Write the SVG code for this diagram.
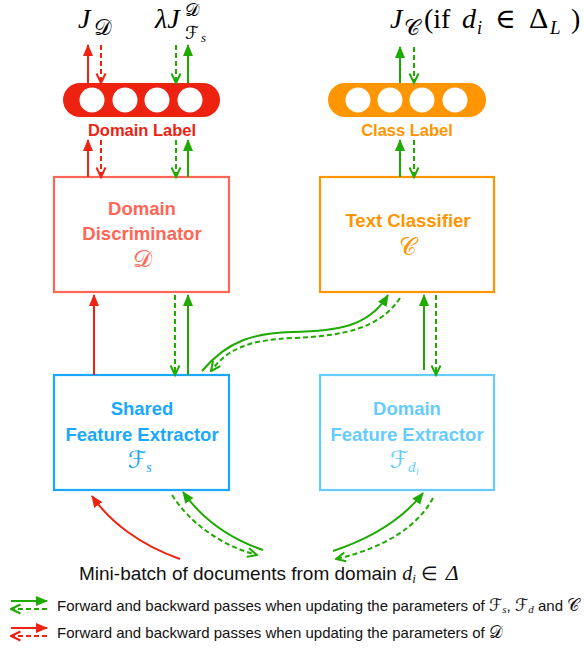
<svg xmlns="http://www.w3.org/2000/svg" width="584" height="648" viewBox="0 0 584 648">
<style>
.lbl{font-family:"Liberation Sans",Arial,sans-serif;font-weight:bold;text-anchor:middle}
.box{fill:#fff;stroke-width:2.2}
.math{font-family:"Liberation Serif","DejaVu Serif",serif;font-style:italic}
.up{font-family:"Liberation Serif","DejaVu Serif",serif}
.cal{font-family:"DejaVu Sans","Noto Sans",sans-serif;font-style:normal}
.g{stroke:#1FAA00;stroke-width:2;fill:none}
.r{stroke:#EE2211;stroke-width:2;fill:none}
.gs{marker-end:url(#gSolid)}
.gd{stroke-dasharray:5 3;marker-end:url(#gOpen)}
.rs{marker-end:url(#rSolid)}
.rd{stroke-dasharray:5 3;marker-end:url(#rOpen)}
.leg{font-family:"Liberation Sans",Arial,sans-serif;font-size:15px;fill:#111}
</style>
<defs>
<marker id="gSolid" markerUnits="userSpaceOnUse" markerWidth="12" markerHeight="12" viewBox="0 0 12 10" refX="11" refY="5" orient="auto"><path d="M0,0 L12,5 L0,10 z" fill="#1FAA00"/></marker>
<marker id="rSolid" markerUnits="userSpaceOnUse" markerWidth="12" markerHeight="12" viewBox="0 0 12 10" refX="11" refY="5" orient="auto"><path d="M0,0 L12,5 L0,10 z" fill="#EE2211"/></marker>
<marker id="gOpen" markerUnits="userSpaceOnUse" markerWidth="12" markerHeight="12" viewBox="0 0 12 10" refX="10.5" refY="5" orient="auto"><path d="M1,0.5 L10.5,5 L1,9.5" fill="none" stroke="#1FAA00" stroke-width="2"/></marker>
<marker id="rOpen" markerUnits="userSpaceOnUse" markerWidth="12" markerHeight="12" viewBox="0 0 12 10" refX="10.5" refY="5" orient="auto"><path d="M1,0.5 L10.5,5 L1,9.5" fill="none" stroke="#EE2211" stroke-width="2"/></marker>
</defs>

<!-- top loss labels -->
<g id="loss-domain">
<text class="math" x="78" y="28" font-size="28">J</text>
<text class="cal" x="94" y="35" font-size="22">𝒟</text>
</g>
<g id="loss-shared">
<text class="math" x="155" y="28" font-size="28">λJ</text>
<text class="cal" x="185" y="16" font-size="18">𝒟</text>
<text class="cal" x="185" y="39" font-size="18">ℱ</text>
<text class="math" x="201" y="42" font-size="13">s</text>
</g>
<g id="loss-class">
<text class="math" x="390" y="28" font-size="28">J</text>
<text class="cal" x="404" y="35" font-size="22">𝒞</text>
<text class="up" x="424" y="28" font-size="28">(if</text>
<text class="math" x="462" y="28" font-size="28">d</text>
<text class="math" x="477" y="34" font-size="18">i</text>
<text class="up" x="495" y="28" font-size="28">∈</text>
<text class="up" x="529" y="28" font-size="30">Δ</text>
<text class="math" x="550" y="34" font-size="19">L</text>
<text class="up" x="571" y="28" font-size="28">)</text>
</g>

<!-- label layers -->
<g id="domain-label">
<rect x="63" y="83" width="157" height="34" rx="17" fill="#EE2211"/>
<circle cx="92" cy="100" r="12.5" fill="#fff"/>
<circle cx="125" cy="100" r="12.5" fill="#fff"/>
<circle cx="157" cy="100" r="12.5" fill="#fff"/>
<circle cx="190" cy="100" r="12.5" fill="#fff"/>
<text class="lbl" x="142" y="136" font-size="16.5" fill="#EE2211">Domain Label</text>
</g>
<g id="class-label">
<rect x="328" y="83" width="158" height="34" rx="17" fill="#FF9500"/>
<circle cx="358" cy="100" r="12.5" fill="#fff"/>
<circle cx="390" cy="100" r="12.5" fill="#fff"/>
<circle cx="422" cy="100" r="12.5" fill="#fff"/>
<circle cx="455" cy="100" r="12.5" fill="#fff"/>
<text class="lbl" x="407" y="136" font-size="16.5" fill="#FF9500">Class Label</text>
</g>

<!-- boxes -->
<g id="domain-discriminator">
<rect class="box" x="54" y="177" width="175" height="115" stroke="#FF6655"/>
<text class="lbl" x="142" y="215" font-size="18.5" fill="#FF6655">Domain</text>
<text class="lbl" x="142" y="240" font-size="18.5" fill="#FF6655">Discriminator</text>
<text class="cal" x="142" y="267" font-size="24" fill="#FF6655" text-anchor="middle">𝒟</text>
</g>
<g id="text-classifier">
<rect class="box" x="320" y="177" width="174" height="115" stroke="#FF9500"/>
<text class="lbl" x="408" y="227" font-size="18.5" fill="#FF9500">Text Classifier</text>
<text class="cal" x="408" y="255" font-size="24" fill="#FF9500" text-anchor="middle">𝒞</text>
</g>
<g id="shared-feature-extractor">
<rect class="box" x="54" y="375" width="175" height="115" stroke="#1AA8FF"/>
<text class="lbl" x="142" y="415" font-size="18.5" fill="#1AA8FF">Shared</text>
<text class="lbl" x="142" y="441" font-size="18.5" fill="#1AA8FF">Feature Extractor</text>
<text class="cal" x="137" y="468" font-size="24" fill="#1AA8FF" text-anchor="middle">ℱ</text>
<text class="math" x="146" y="472" font-size="15" fill="#1AA8FF">s</text>
</g>
<g id="domain-feature-extractor">
<rect class="box" x="320" y="375" width="174" height="115" stroke="#66CCFF"/>
<text class="lbl" x="407" y="415" font-size="18.5" fill="#66CCFF">Domain</text>
<text class="lbl" x="407" y="441" font-size="18.5" fill="#66CCFF">Feature Extractor</text>
<text class="cal" x="399" y="468" font-size="24" fill="#66CCFF" text-anchor="middle">ℱ</text>
<text class="math" x="408" y="472" font-size="15" fill="#66CCFF">d</text>
<text class="math" x="416" y="475" font-size="10" fill="#66CCFF">i</text>
</g>

<g id="caption">
<text x="79" y="580" font-family="'Liberation Sans',Arial,sans-serif" font-size="19" fill="#111">Mini-batch of documents from domain <tspan font-family="'Liberation Serif',serif" font-style="italic" font-size="20">d</tspan><tspan font-family="'Liberation Serif',serif" font-style="italic" font-size="13" dy="3">i</tspan><tspan dy="-3" dx="5">∈</tspan><tspan dx="8" font-family="'Liberation Serif',serif" font-style="italic" font-size="22">Δ</tspan></text>
</g>

<!-- connectors -->
<g id="connectors">
<path class="r rs" d="M88,83 L88,45"/>
<path class="r rd" d="M101,45 L101,83"/>
<path class="g gd" d="M176,45 L176,83"/>
<path class="g gs" d="M188,83 L188,45"/>
<path class="r rs" d="M88,177 L88,140"/>
<path class="r rd" d="M101,140 L101,177"/>
<path class="g gd" d="M176,140 L176,177"/>
<path class="g gs" d="M188,177 L188,140"/>
<path class="g gs" d="M400,83 L400,47"/>
<path class="g gd" d="M414,47 L414,83"/>
<path class="g gs" d="M400,177 L400,140"/>
<path class="g gd" d="M414,140 L414,177"/>
<path class="r rs" d="M94,375 L94,295"/>
<path class="g gd" d="M175,295 L175,375"/>
<path class="g gs" d="M188,375 L188,295"/>
<path class="g gs" d="M424,370 L424,295"/>
<path class="g gd" d="M436,295 L436,375"/>
<path class="g gs" d="M202,371 C228,340 255,333 292,332 C335,331 368,328 388,295"/>
<path class="g gd" d="M400,298 C380,328 345,336 292,338 C250,340 228,348 211,371"/>
<path class="r rs" d="M180,559 C140,545 110,522 92,496"/>
<path class="g gs" d="M263,550 C225,537 200,516 183,492"/>
<path class="g gd" d="M172,495 C190,523 220,545 257,555"/>
<path class="g gs" d="M333,551 C375,537 405,516 423,493"/>
<path class="g gd" d="M433,498 C418,526 385,548 336,559"/>
</g>

<!-- legend -->
<g id="legend">
<path class="g gs" d="M11,601 L47,601"/>
<path class="g gd" d="M47,609 L11,609"/>
<text class="leg" x="57" y="611">Forward and backward passes when updating the parameters of <tspan font-family="'DejaVu Sans',sans-serif" font-size="17">ℱ</tspan><tspan font-family="'Liberation Serif',serif" font-style="italic" font-size="11" dy="2">s</tspan><tspan dy="-2">, </tspan><tspan font-family="'DejaVu Sans',sans-serif" font-size="17">ℱ</tspan><tspan font-family="'Liberation Serif',serif" font-style="italic" font-size="11" dy="2">d</tspan><tspan dy="-2"> and </tspan><tspan font-family="'DejaVu Sans',sans-serif" font-size="17">𝒞</tspan></text>
<path class="r rs" d="M11,628 L47,628"/>
<path class="r rd" d="M47,636 L11,636"/>
<text class="leg" x="57" y="638">Forward and backward passes when updating the parameters of <tspan font-family="'DejaVu Sans',sans-serif" font-size="17">𝒟</tspan></text>
</g>
</svg>
